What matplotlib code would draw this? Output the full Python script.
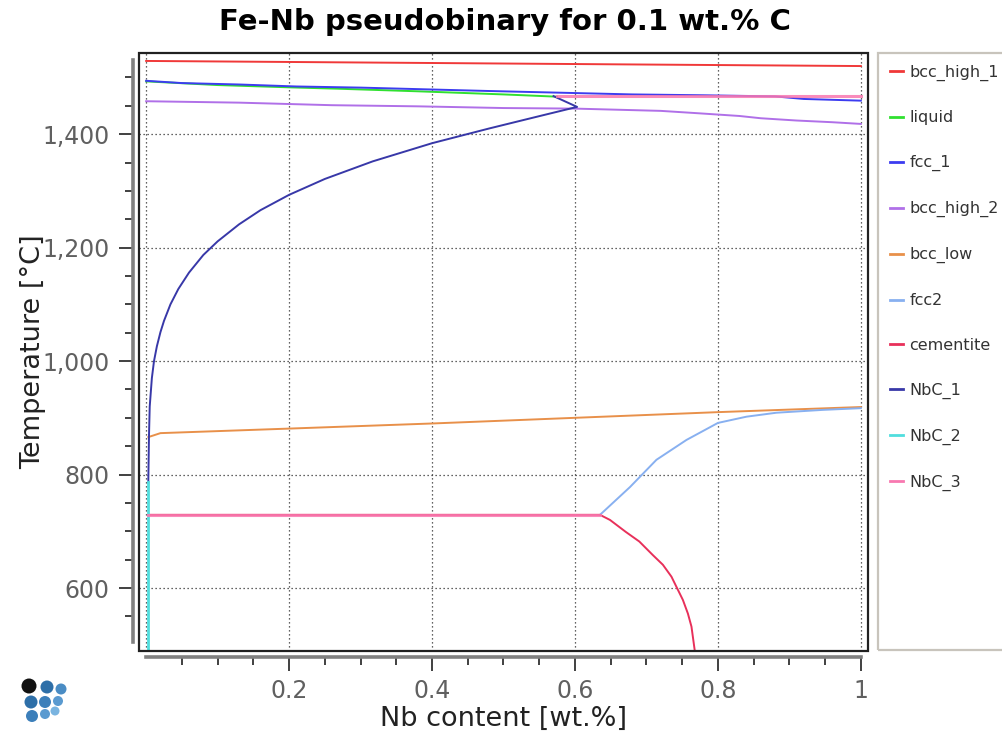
import matplotlib
matplotlib.use("Agg")
import matplotlib.pyplot as plt
import numpy as np
from matplotlib.patches import Rectangle
from matplotlib.ticker import FixedLocator, FuncFormatter

# ---------------- data ----------------
bcc_high_1_x = [0.0, 0.33, 0.66, 1.0]
bcc_high_1_T = [1529, 1526, 1523, 1520]

liquid_x = [0.0, 0.1, 0.2, 0.27, 0.38, 0.5, 0.575]
liquid_T = [1493, 1486.5, 1482.5, 1480, 1475.5, 1470, 1466]

fcc_1_x = [0.0, 0.05, 0.13, 0.21, 0.30, 0.39, 0.48, 0.58, 0.68, 0.78, 0.88, 0.92, 1.0]
fcc_1_T = [1494, 1490, 1487.5, 1484, 1482, 1479, 1476, 1473, 1470, 1468.5, 1466.5, 1462, 1459]

bcc_high_2_x = [0.0, 0.13, 0.26, 0.38, 0.5, 0.6, 0.72, 0.77, 0.83, 0.86, 0.91, 0.96, 1.0]
bcc_high_2_T = [1458, 1455.5, 1451, 1449, 1446, 1445, 1441, 1437, 1432, 1428, 1424, 1421, 1418]

bcc_low_x = [0.003, 0.02, 0.2, 0.4, 0.6, 0.8, 1.0]
bcc_low_T = [866, 873, 881, 890, 900, 910, 919]

fcc2_x = [0.635, 0.677, 0.714, 0.756, 0.8, 0.84, 0.882, 0.947, 1.0]
fcc2_T = [729, 778, 826, 861, 891, 902, 909, 914, 917]

cementite_x = [0.003, 0.635, 0.649, 0.671, 0.690, 0.709, 0.723, 0.735, 0.742, 0.751, 0.758, 0.763, 0.768]
cementite_T = [729, 729, 720, 699, 682, 658, 641, 620, 602, 579, 555, 532, 486]

NbC_1_x = [0.003, 0.004, 0.005, 0.008, 0.011, 0.015, 0.02, 0.025, 0.034, 0.045, 0.06,
           0.08, 0.1, 0.13, 0.16, 0.2, 0.25, 0.317, 0.4, 0.48, 0.551, 0.603, 0.57]
NbC_1_T = [786, 870, 920, 970, 1000, 1026, 1051, 1071, 1100, 1127, 1156,
           1187, 1211, 1241, 1266, 1293, 1321, 1352, 1384, 1410, 1432, 1448, 1467]

NbC_2_x = [0.003, 0.003]
NbC_2_T = [786, 486]

NbC_3_x = [0.003, 0.635, np.nan, 0.575, 1.0]
NbC_3_T = [729, 729, np.nan, 1467, 1467]

x_major = [0.2, 0.4, 0.6, 0.8, 1.0]
x_minor = [0.05, 0.1, 0.15, 0.25, 0.3, 0.35, 0.45, 0.5, 0.55, 0.65, 0.7, 0.75, 0.85, 0.9, 0.95]
y_major = [600, 800, 1000, 1200, 1400]
y_minor = [550, 650, 700, 750, 850, 900, 950, 1050, 1100, 1150, 1250, 1300, 1350, 1450, 1500]

# logo decoration (pixel coordinates)
logo_x = [29, 47, 61, 31, 45, 58, 32, 45, 55]
logo_y = [686, 687, 689, 702, 702, 701, 716, 714, 711]
logo_r = [7.5, 6.5, 5.5, 6.5, 6, 5, 6, 5, 4.5]
logo_c = ['#111111', '#2e6fa8', '#4a8cc4', '#2e6fa8', '#3c7fba', '#5a9ad0',
          '#3c7fba', '#5a9ad0', '#7ab4e0']

# ---------------- figure ----------------
W, H = 1003, 738
fig = plt.figure(figsize=(W / 100, H / 100), dpi=100)
fig.patch.set_facecolor('white')

L, R, T, B = 139, 868, 53, 651
ax = fig.add_axes([L / W, 1 - B / H, (R - L) / W, (B - T) / H])
ax.set_xlim(-0.01, 1.01)
ax.set_ylim(489, 1543)

lw = 1.4
ax.plot(bcc_high_1_x, bcc_high_1_T, color='#f03838', lw=lw, label='bcc_high_1')
ax.plot(liquid_x, liquid_T, color='#30e030', lw=lw, label='liquid')
ax.plot(fcc_1_x, fcc_1_T, color='#3c3cf0', lw=lw, label='fcc_1')
ax.plot(bcc_high_2_x, bcc_high_2_T, color='#b070e8', lw=lw, label='bcc_high_2')
ax.plot(bcc_low_x, bcc_low_T, color='#e8904a', lw=lw, label='bcc_low')
ax.plot(fcc2_x, fcc2_T, color='#88b0f0', lw=lw, label='fcc2')
ax.plot(cementite_x, cementite_T, color='#e8305a', lw=lw, label='cementite')
ax.plot(NbC_1_x, NbC_1_T, color='#3838a8', lw=lw, label='NbC_1')
ax.plot(NbC_2_x, NbC_2_T, color='#50dede', lw=2.0, label='NbC_2')
ax.plot(NbC_3_x, NbC_3_T, color='#f878b0', lw=2.2, alpha=0.85, label='NbC_3')

# grid
grid_kw = dict(color='#303030', lw=0.9, dashes=(1, 2.2))
ax.xaxis.set_major_locator(FixedLocator(x_major))
ax.xaxis.set_minor_locator(FixedLocator(x_minor))
ax.yaxis.set_major_locator(FixedLocator(y_major))
ax.yaxis.set_minor_locator(FixedLocator(y_minor))
ax.grid(True, which='major', **grid_kw)
ax.axvline(0, **grid_kw, zorder=0.5)

ax.xaxis.set_major_formatter(FuncFormatter(lambda v, p: f'{v:g}'))
ax.yaxis.set_major_formatter(FuncFormatter(lambda v, p: f'{v:,.0f}'))

# spines: offset gray axis lines + black frame
for s in ('top', 'right'):
    ax.spines[s].set_visible(False)
for s in ('left', 'bottom'):
    ax.spines[s].set_position(('outward', 4))
    ax.spines[s].set_color('#808080')
    ax.spines[s].set_linewidth(2.6)
ax.spines['left'].set_bounds(505, 1530)
ax.spines['bottom'].set_bounds(0, 1.0)
ax.add_patch(Rectangle((0, 0), 1, 1, transform=ax.transAxes, fill=False,
                       ec='#202020', lw=1.6, clip_on=False, zorder=6))

ax.tick_params(which='major', length=10, width=1.4, color='#404040',
               labelsize=17, labelcolor='#606060', pad=6)
ax.tick_params(which='minor', length=6, width=1.4, color='#404040')
ax.tick_params(axis='y', pad=7)

ax.set_xlabel('Nb content [wt.%]', fontsize=19.5, color='#222222')
ax.set_ylabel('Temperature [°C]', fontsize=19.5, color='#222222')
ax.xaxis.set_label_coords(0.5, -0.092)
ax.yaxis.set_label_coords(-0.128, 0.5)

fig.suptitle('Fe-Nb pseudobinary for 0.1 wt.% C', x=505 / W, y=1 - 22 / H,
             va='center', fontsize=21, fontweight='bold')

# legend box
fig.patches.append(Rectangle((878 / W, 1 - 650 / H), (1040 - 878) / W, (650 - 53) / H,
                             transform=fig.transFigure, fill=False,
                             ec='#c8c4bc', lw=1.6))
handles, labels = ax.get_legend_handles_labels()
leg = fig.legend(handles, labels, loc='upper left',
                 bbox_to_anchor=(890 / W, 1 - 64.5 / H), frameon=False,
                 fontsize=11.5, handlelength=0.8, handletextpad=0.4,
                 labelspacing=1.865, borderpad=0, borderaxespad=0)
for t in leg.get_texts():
    t.set_color('#333333')
for h in leg.legend_handles:
    h.set_linewidth(2.0)
    h.set_alpha(1)

# logo
lax = fig.add_axes([15 / W, 1 - 730 / H, 60 / W, 60 / H])
lax.set_xlim(15, 75)
lax.set_ylim(730, 670)
lax.axis('off')
sizes = [(2 * r * 0.72) ** 2 for r in logo_r]
lax.scatter(logo_x, logo_y, s=sizes, c=logo_c, edgecolors='none')

fig.savefig('out.png', dpi=100, facecolor='white')
